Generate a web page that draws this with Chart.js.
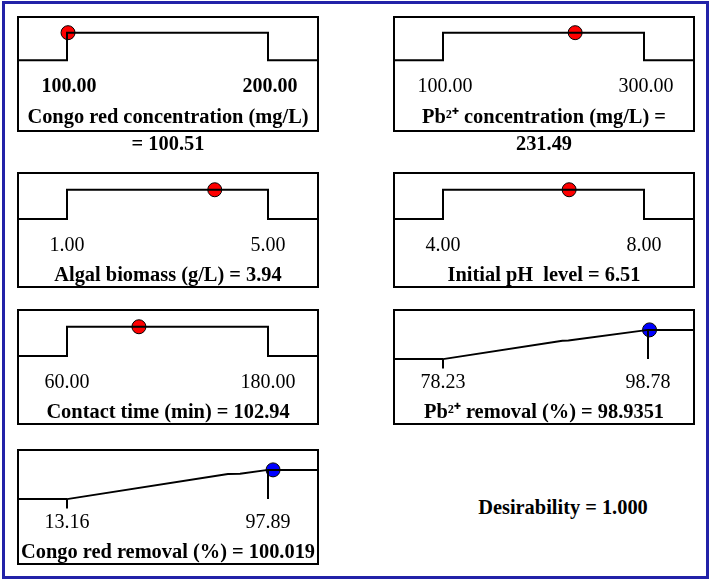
<!DOCTYPE html>
<html>
<head>
<meta charset="utf-8">
<script src="https://cdn.jsdelivr.net/npm/chart.js@4.4.0/dist/chart.umd.min.js"></script>
<style>
  body { margin: 0; background: #fff; }
  #page { position: relative; width: 711px; height: 581px; overflow: hidden; background: #fff; }
  #frame { position: absolute; left: 2px; top: 1px; width: 707px; height: 578px; box-sizing: border-box; border: 3px solid #2222a8; }
  canvas { position: absolute; }
  #desir { position: absolute; left: 413px; width: 300px; top: 496px; text-align: center;
           font: bold 20.4px 'Liberation Serif', serif; color: #000; }
</style>
</head>
<body>
<div id="page">
  <div id="frame"></div>
  <div id="desir"></div>
</div>
<script>
// ============================================================
// Data
// ============================================================

const factorNames = ['Congo red concentration (mg/L)', 'Pb\u00B2\u207A concentration (mg/L)',
                     'Algal biomass (g/L)', 'Initial pH  level', 'Contact time (min)'];
const factorLow = [100, 100, 1, 4, 60];
const factorHigh = [200, 300, 5, 8, 180];
const factorOptimum = [100.51, 231.49, 3.94, 6.51, 102.94];

const responseNames = ['Pb\u00B2\u207A removal (%)', 'Congo red removal (%)'];
const responseLow = [78.23, 13.16];
const responseHigh = [98.78, 97.89];
const responsePredicted = [98.9351, 100.019];

// desirability ramps (x = response value, d = desirability 0..1)
const pbRampX = [78.23, 90.2, 90.8, 98.78];
const pbRampD = [0, 0.63, 0.64, 1];
const crRampX = [13.16, 81.0, 86.1, 97.89];
const crRampD = [0, 0.86, 0.87, 1];

const desirability = 1.000;

// ============================================================
// Panel layout
// ============================================================

const W = 302;          // canvas width (box width)
const BOX_H = 116;      // box height
const PAD_L = 50;       // px from box left edge to low limit

const panels = [
    { kind: 'factor', i: 0, left: 17,  top: 16,  run: 201, boldTicks: true, labelOffset: 2,
      title: [factorNames[0], '= ' + factorOptimum[0]] },
    { kind: 'factor', i: 1, left: 393, top: 16,  run: 201, labelOffset: 2,
      title: [factorNames[1] + ' =', String(factorOptimum[1])] },
    { kind: 'factor', i: 2, left: 17,  top: 172, run: 201 },
    { kind: 'factor', i: 3, left: 393, top: 172, run: 201 },
    { kind: 'factor', i: 4, left: 17,  top: 309, run: 201 },
    { kind: 'response', i: 0, left: 393, top: 309, run: 205, rampX: pbRampX, rampD: pbRampD },
    { kind: 'response', i: 1, left: 17,  top: 449, run: 201, rampX: crRampX, rampD: crRampD },
];

const boxPlugin = {
    id: 'box',
    afterDraw(chart) {
        const ctx = chart.ctx;
        ctx.save();
        ctx.strokeStyle = '#000';
        ctx.lineWidth = 2;
        ctx.strokeRect(1, 1, chart.width - 2, BOX_H - 2);
        ctx.restore();
    }
};

function lineSet(points, extra) {
    return Object.assign({
        data: points,
        borderColor: '#000',
        borderWidth: 2,
        pointRadius: 0,
        tension: 0,
        fill: false
    }, extra || {});
}

function dotSet(x, color) {
    return {
        data: [{ x: x, y: 1 }],
        showLine: false,
        pointRadius: 7,
        pointHoverRadius: 7,
        pointBackgroundColor: color,
        pointBorderColor: '#000',
        pointBorderWidth: 1,
        clip: false
    };
}

function makePanel(p) {
    const page = document.getElementById('page');
    const cv = document.createElement('canvas');
    const twoLine = Array.isArray(p.title);
    cv.width = W;
    cv.height = twoLine ? BOX_H + 31 : BOX_H;
    cv.style.left = p.left + 'px';
    cv.style.top = p.top + 'px';
    page.appendChild(cv);

    let lo, hi, datasets, title, yMax;
    if (p.kind === 'factor') {
        lo = factorLow[p.i];
        hi = factorHigh[p.i];
        title = p.title || (factorNames[p.i] + ' = ' + factorOptimum[p.i]);
        yMax = 1 + 17 / 28;
    } else {
        lo = responseLow[p.i];
        hi = responseHigh[p.i];
        title = responseNames[p.i] + ' = ' + responsePredicted[p.i];
        yMax = 1 + 20 / 28;
    }
    const span = hi - lo;
    const xMin = lo - span * PAD_L / p.run;
    const xMax = xMin + span * W / p.run;

    if (p.kind === 'factor') {
        datasets = [
            lineSet([{ x: xMin, y: 0 }, { x: lo, y: 0 }, { x: lo, y: 1 },
                     { x: hi, y: 1 }, { x: hi, y: 0 }, { x: xMax, y: 0 }]),
            dotSet(factorOptimum[p.i], '#ff0000')
        ];
    } else {
        const ramp = p.rampX.map((x, k) => ({ x: x, y: p.rampD[k] }));
        datasets = [
            lineSet([{ x: xMin, y: 0 }].concat(ramp, [{ x: xMax, y: 1 }])),
            lineSet([{ x: lo, y: 0 }, { x: lo, y: -0.32 }], { clip: false }),
            lineSet([{ x: hi, y: 1 }, { x: hi, y: 0 }]),
            dotSet(responsePredicted[p.i], '#0000ff')
        ];
    }

    new Chart(cv, {
        type: 'line',
        data: { datasets },
        options: {
            responsive: false,
            animation: false,
            devicePixelRatio: 1,
            events: [],
            layout: { padding: 0, autoPadding: false },
            plugins: {
                legend: { display: false },
                tooltip: { enabled: false },
                title: {
                    display: true,
                    position: 'bottom',
                    text: title,
                    color: '#000',
                    font: { family: 'Liberation Serif', size: 20.4, weight: 'bold',
                            lineHeight: twoLine ? 1.3 : 1.18 },
                    padding: twoLine ? { top: 1, bottom: 5 } : { top: 2.5, bottom: 0 }
                }
            },
            scales: {
                x: {
                    type: 'linear',
                    min: xMin,
                    max: xMax,
                    grid: { display: false, drawTicks: false },
                    border: { display: false },
                    afterBuildTicks: (axis) => { axis.ticks = [{ value: lo }, { value: hi }]; },
                    ticks: {
                        autoSkip: false,
                        maxRotation: 0,
                        padding: twoLine ? 5 : 4,
                        labelOffset: p.labelOffset || 0,
                        color: '#000',
                        font: { family: 'Liberation Serif', size: 20,
                                weight: p.boldTicks ? 'bold' : 'normal' },
                        callback: (v) => Number(v).toFixed(2)
                    }
                },
                y: {
                    display: false,
                    min: yMax - 55 / 28,
                    max: yMax
                }
            }
        },
        plugins: [boxPlugin]
    });
}

panels.forEach(makePanel);
document.getElementById('desir').textContent = 'Desirability = ' + desirability.toFixed(3);
</script>
</body>
</html>
